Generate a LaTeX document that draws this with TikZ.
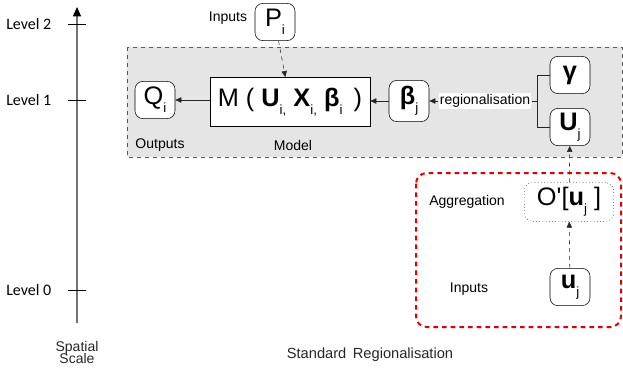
\documentclass[tikz,border=0pt]{standalone}
\usepackage{fontspec}
\setmainfont{Liberation Sans}
\newfontfamily\levelfont{Carlito}
\usetikzlibrary{arrows.meta}
\newcommand{\lowsub}[1]{\raisebox{-0.6ex}{\fontsize{10}{10}\selectfont #1}}
\begin{document}
\begin{tikzpicture} [
                x=0.75pt, y=-0.75pt,
                var/.style={draw,rounded corners=6pt,fill=white,minimum width=30pt,minimum height=28pt,inner sep=1pt,font=\fontsize{19}{19}\selectfont},
                model/.style={draw,fill=white,minimum width=120pt,minimum height=37pt,inner sep=1pt,font=\fontsize{19}{19}\selectfont},
                agg/.style={draw,dotted,rounded corners=6pt,fill=white,minimum width=67pt,minimum height=29pt,inner sep=1pt,font=\fontsize{19}{19}\selectfont},
                caption/.style={font=\fontsize{10.5}{12}\selectfont},
                flow/.style={draw,black!85,-{Triangle[length=4.5pt,width=4pt]}},
                dflow/.style={flow,dashed},
            ]
            \useasboundingbox (0,0) rectangle (623,368);
            % Spatial scale axis with its levels
            \draw[black!55,line width=1pt,-{Triangle[length=7pt,width=6pt,black]}] (77,323) -- (77,7);
            \foreach \y/\lev in {24/2,100/1,290/0} {
                \draw (68,\y) -- (86,\y);
                \node[anchor=east,font=\levelfont\fontsize{12}{14}\selectfont] (level\lev) at (56,\y) {Level \lev};
            }
            \node[caption,align=center,black!85] (scale) at (77,352) {Spatial\\[-3pt]Scale};
            % Regional level (grey) and local aggregation (red)
            \draw[black!65,dashed,fill=black!10] (127,47) rectangle (622,157);
            \draw[red!90!black,line width=1.5pt,dash pattern=on 3.5pt off 3pt,rounded corners=8pt] (416,173) rectangle (621,327);
            % Nodes
            \node[var] (P) at (275,22) {P\lowsub{i}};
            \node[model] (M) at (290,102) {M ( \textbf{U}\lowsub{i,} \textbf{X}\lowsub{i,} \textbf{β}\lowsub{i} \,)};
            \node[var] (Q) at (155,100) {Q\lowsub{i}};
            \node[var,minimum height=31pt] (beta) at (409,101) {\textbf{β}\lowsub{j}};
            \node[var] (gamma) at (570,75) {\textbf{γ}};
            \node[var] (U) at (570,127) {\textbf{U}\lowsub{j}};
            \node[agg] (O) at (569,202) {O\textquotesingle[\textbf{u}\lowsub{j} ]};
            \node[var] (u) at (570,287) {\textbf{u}\lowsub{j}};
            \node[caption,fill=white,inner sep=1pt] (reg) at (485,101) {regionalisation};
            % Labels
            \node[caption] (inP) at (228,18) {Inputs};
            \node[caption] (out) at (160,145) {Outputs};
            \node[caption] (mod) at (293,145) {Model};
            \node[caption] (aggl) at (467,202) {Aggregation};
            \node[caption] (inu) at (469,289) {Inputs};
            \node[font=\fontsize{11}{13}\selectfont,black!85] (title) at (370,355) {Standard\, Regionalisation};
            % Connections
            \path[dflow] (P) -- (M);
            \path[flow] (M.west |- Q) -- (Q);
            \path[flow] (beta) -- (beta -| M.east);
            \path[flow] (reg) -- (beta);
            \draw[black!85] (reg.east) -- ++(6,0) coordinate (brk);
            \draw[black!85] (gamma.west) -| (brk) |- (U.west);
            \path[dflow] (O) -- (U);
            \path[dflow] (u) -- (O);
        \end{tikzpicture}
\end{document}
